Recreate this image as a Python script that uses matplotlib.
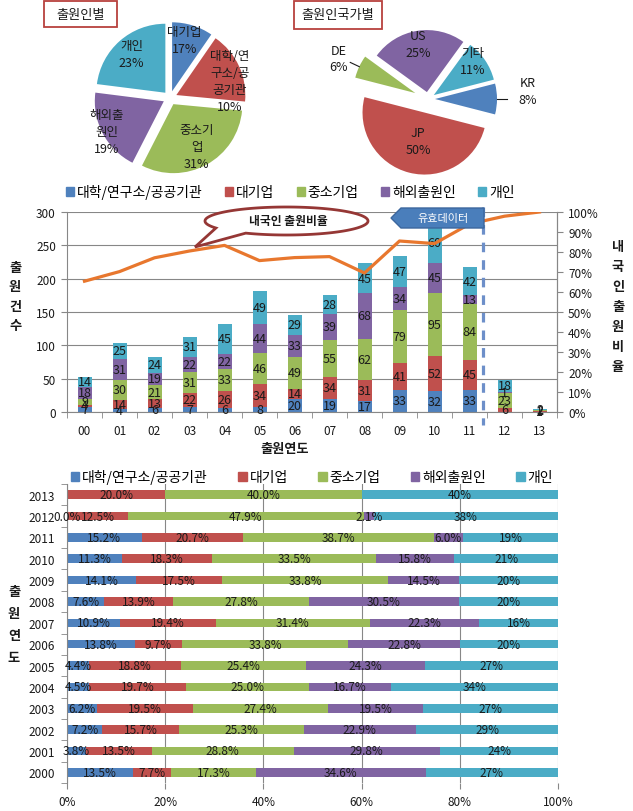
import matplotlib
matplotlib.use('Agg')
import matplotlib.pyplot as plt
import matplotlib.patches as mpatches
import numpy as np

plt.rcParams['font.family'] = ['Noto Sans CJK KR', 'DejaVu Sans']
plt.rcParams['axes.unicode_minus'] = False

# ---------------- data ----------------
years = ['00', '01', '02', '03', '04', '05', '06', '07', '08', '09', '10', '11', '12', '13']
year_labels = ['2000', '2001', '2002', '2003', '2004', '2005', '2006',
               '2007', '2008', '2009', '2010', '2011', '2012', '2013']
series_names = ['대학/연구소/공공기관', '대기업', '중소기업', '해외출원인', '개인']

# yearly filing counts per applicant type (None = blank cell)
univ = [7, 4, 6, 7, 6, 8, 20, 19, 17, 33, 32, 33, 0, None]
large = [4, 14, 13, 22, 26, 34, 14, 34, 31, 41, 52, 45, 6, 1]
sme = [9, 30, 21, 31, 33, 46, 49, 55, 62, 79, 95, 84, 23, 2]
foreign = [18, 31, 19, 22, 22, 44, 33, 39, 68, 34, 45, 13, 1, None]
person = [14, 25, 24, 31, 45, 49, 29, 28, 45, 47, 60, 42, 18, 2]

# 내국인 출원비율 (%)
domestic_ratio = [65.4, 70.2, 77.1, 80.5, 83.3, 75.7, 77.2, 77.7, 69.5, 85.5, 84.2, 94.0, 97.9, 100.0]

# pie 1 : slice sizes (total counts) and the label text printed on each slice
applicant_totals = [192, 337, 619, 389, 459]
applicant_text = ['대기업\n17%', '대학/연\n구소/공\n공기관\n10%', '중소기\n업\n31%',
                  '해외출\n원인\n19%', '개인\n23%']

# pie 2 : by applicant country
country_names = ['US', '기타', 'KR', 'JP', 'DE']
country_pct = [25, 11, 8, 50, 6]

# ---------------- style ----------------
BLUE, RED, GREEN, PURPLE, TEAL = '#4F81BD', '#C0504D', '#9BBB59', '#8064A2', '#4BACC6'
ORANGE = '#E8772E'
GRID = '#878787'
TXT = '#1a1a1a'
colors = [BLUE, RED, GREEN, PURPLE, TEAL]
series = [univ, large, sme, foreign, person]

W, H = 633, 812
fig = plt.figure(figsize=(W / 100, H / 100), dpi=100)
fig.patch.set_facecolor('white')


def Y(py):
    # pixel row (from top) -> overlay data y
    return H - py


# ---------------- middle chart : stacked counts + ratio line ----------------
ax = fig.add_axes([67 / W, 1 - 413 / H, 490 / W, 200 / H])
x = np.arange(len(years))
bottom = np.zeros(len(years))
for vals, col in zip(series, colors):
    v = np.array([0 if a is None else a for a in vals], dtype=float)
    ax.bar(x, v, 0.4, bottom=bottom, color=col, zorder=2)
    for xi, vi, bi in zip(x, v, bottom):
        if vi > 0:
            ax.text(xi, bi + vi / 2, f'{vi:.0f}', ha='center', va='center',
                    fontsize=9, color=TXT, zorder=3)
    bottom += v

ax.set_xlim(-0.5, len(years) - 0.5)
ax.set_ylim(0, 300)
ax.set_yticks(range(0, 301, 50))
ax.set_xticks(x, years)
ax.set_xticks(np.arange(-0.5, len(years), 1), minor=True)
ax.grid(axis='y', color=GRID, lw=0.8)
ax.set_axisbelow(True)
ax.spines['top'].set_visible(False)
for s in ['left', 'bottom', 'right']:
    ax.spines[s].set_color(GRID)
ax.tick_params(axis='x', which='major', length=0, pad=9, labelsize=8.5, labelcolor=TXT)
ax.tick_params(axis='x', which='minor', length=4, color=GRID, direction='out')
ax.tick_params(axis='y', length=4, color=GRID, pad=4, labelsize=8.5, labelcolor=TXT)

ax2 = ax.twinx()
ax2.plot(x, np.array(domestic_ratio) / 100, color=ORANGE, lw=2.3, zorder=4)
ax2.set_ylim(0, 1)
ticks = np.arange(0, 1.01, 0.1)
ax2.set_yticks(ticks, [f'{t * 100:.0f}%' for t in ticks])
for s in ['top', 'left', 'bottom']:
    ax2.spines[s].set_visible(False)
ax2.spines['right'].set_color(GRID)
ax2.tick_params(axis='y', length=4, color=GRID, pad=4, labelsize=8.5, labelcolor=TXT)

handles = [mpatches.Patch(color=c) for c in colors]
fig.legend(handles, series_names, loc='center left', bbox_to_anchor=(66 / W, 1 - 193 / H),
           ncol=5, frameon=False, fontsize=10, handlelength=0.6, handleheight=0.6,
           handletextpad=0.2, columnspacing=1.6, borderpad=0, borderaxespad=0)

# ---------------- bottom chart : 100% stacked bars ----------------
ax3 = fig.add_axes([67 / W, 1 - 784 / H, 491 / W, 299 / H])
rows = np.arange(len(year_labels))
totals = np.zeros(len(year_labels))
for vals in series:
    totals += np.array([0 if a is None else a for a in vals], dtype=float)
left = np.zeros(len(year_labels))
for k, (vals, col) in enumerate(zip(series, colors)):
    v = np.array([0 if a is None else a for a in vals], dtype=float)
    pct = v / totals * 100
    ax3.barh(rows, pct, 0.4, left=left, color=col, zorder=2)
    fmt = '{:.0f}%' if k == 4 else '{:.1f}%'
    for r, p, l, raw in zip(rows, pct, left, vals):
        if raw is None:
            continue
        ax3.text(l + p / 2, r, fmt.format(p), ha='center', va='center',
                 fontsize=8.5, color=TXT, zorder=3)
    left += pct

ax3.set_xlim(0, 100)
ax3.set_ylim(-0.5, len(year_labels) - 0.5)
ax3.set_xticks(range(0, 101, 20), [f'{t}%' for t in range(0, 101, 20)])
ax3.set_yticks(rows, year_labels)
ax3.set_yticks(np.arange(-0.5, len(year_labels), 1), minor=True)
ax3.grid(axis='x', color=GRID, lw=0.8)
ax3.set_axisbelow(True)
for s in ['top', 'right', 'bottom']:
    ax3.spines[s].set_visible(False)
ax3.spines['left'].set_color(GRID)
ax3.tick_params(axis='x', length=4, color=GRID, pad=5, labelsize=8.5, labelcolor=TXT)
ax3.tick_params(axis='y', which='major', length=0, pad=9, labelsize=8.5, labelcolor=TXT)
ax3.tick_params(axis='y', which='minor', length=4, color=GRID, direction='out')

fig.legend(handles, series_names, loc='center left', bbox_to_anchor=(71 / W, 1 - 478 / H),
           ncol=5, frameon=False, fontsize=10, handlelength=0.6, handleheight=0.6,
           handletextpad=0.2, columnspacing=2.2, borderpad=0, borderaxespad=0)

# ---------------- overlay : pies, boxes, callouts, axis titles ----------------
ov = fig.add_axes([0, 0, 1, 1], zorder=10)
ov.patch.set_alpha(0)

# pie 1
r1 = 69
w1, _ = ov.pie(applicant_totals, colors=colors, startangle=90, counterclock=False,
               radius=r1, center=(170, Y(99)), explode=[7] * 5,
               wedgeprops=dict(linewidth=0))
dist1 = [0.77, 0.8, 0.7, 0.94, 0.74]
shift1 = [4, -10, 0, 0, 0]
for w, txt, d, sh in zip(w1, applicant_text, dist1, shift1):
    a = np.deg2rad((w.theta1 + w.theta2) / 2 + sh)
    cx, cy = w.center
    ov.text(cx + d * r1 * np.cos(a), cy + d * r1 * np.sin(a), txt, ha='center', va='center',
            fontsize=9, color=TXT, linespacing=1.4)

# pie 2
r2 = 62
w2, _ = ov.pie(country_pct, colors=[PURPLE, TEAL, BLUE, RED, GREEN], startangle=144,
               counterclock=False, radius=r2, center=(428, Y(100)),
               explode=[7, 7, 7, 14, 14], wedgeprops=dict(linewidth=0))
dist2 = [0.79, 0.84, 1.5, 0.47, 1.36]
shift2 = [1, 7, 5, 2, 1]
for w, name, p, d, sh in zip(w2, country_names, country_pct, dist2, shift2):
    a = np.deg2rad((w.theta1 + w.theta2) / 2 + sh)
    cx, cy = w.center
    ov.text(cx + d * r2 * np.cos(a), cy + d * r2 * np.sin(a), f'{name}\n{p}%', ha='center',
            va='center', fontsize=9, color=TXT, linespacing=1.35)
    if d > 1:
        a0 = np.deg2rad((w.theta1 + w.theta2) / 2)
        ov.plot([cx + 1.0 * r2 * np.cos(a0), cx + 1.16 * r2 * np.cos(a0)],
                [cy + 1.0 * r2 * np.sin(a0), cy + 1.16 * r2 * np.sin(a0)], color=TXT, lw=0.8)

# title boxes
for (x0, x1, y0, y1, label) in [(44, 117, 2, 28, '출원인별'), (294, 382, 2, 30, '출원인국가별')]:
    ov.add_patch(mpatches.Rectangle((x0, Y(y1)), x1 - x0, y1 - y0, fc='white', ec='#B8413E', lw=1.3))
    ov.text((x0 + x1) / 2, Y((y0 + y1) / 2), label, ha='center', va='center', fontsize=9.5, color=TXT)

# speech-bubble callout
cx, cy, ea, eb = 286.5, 222, 81.5, 14
t = np.deg2rad(np.linspace(150, 480, 200))
pts = [(cx + ea * np.cos(v), Y(cy + eb * np.sin(v))) for v in t]
pts.append((195, Y(248)))
ov.add_patch(mpatches.Polygon(pts, closed=True, fc='white', ec='#953735', lw=2.0, zorder=5))
ov.text(288, Y(222), '내국인 출원비율', ha='center', va='center', fontsize=8.5,
        fontweight='bold', color=TXT, zorder=6)

# dashed separator and "유효데이터" arrow box
ov.plot([483, 483], [Y(208), Y(426)], color='#6D8FC9', lw=2.3, ls=(0, (3, 2.5)), zorder=4)
arrow = [(391, Y(219)), (401, Y(209)), (484, Y(209)), (484, Y(229)), (401, Y(229))]
ov.add_patch(mpatches.Polygon(arrow, closed=True, fc='#4A7EBB', ec='#3C679E', lw=1.0, zorder=5))
ov.text(443, Y(219), '유효데이터', ha='center', va='center', fontsize=8, color='white', zorder=6)

# axis titles (stacked characters)
for i, ch in enumerate('출원건수'):
    ov.text(15, Y(268 + i * 19.5), ch, ha='center', va='center', fontsize=9.5, fontweight='bold', color=TXT)
for i, ch in enumerate('내국인출원비율'):
    ov.text(618, Y(247 + i * 20), ch, ha='center', va='center', fontsize=9.5, fontweight='bold', color=TXT)
for i, ch in enumerate('출원연도'):
    ov.text(14, Y(592 + i * 22), ch, ha='center', va='center', fontsize=9.5, fontweight='bold', color=TXT)
ov.text(285, Y(449), '출원연도', ha='center', va='center', fontsize=9.5, fontweight='bold', color=TXT)

ov.set_xlim(0, W)
ov.set_ylim(0, H)
ov.set_aspect('auto')
ov.axis('off')

fig.savefig('out.png', dpi=100)
